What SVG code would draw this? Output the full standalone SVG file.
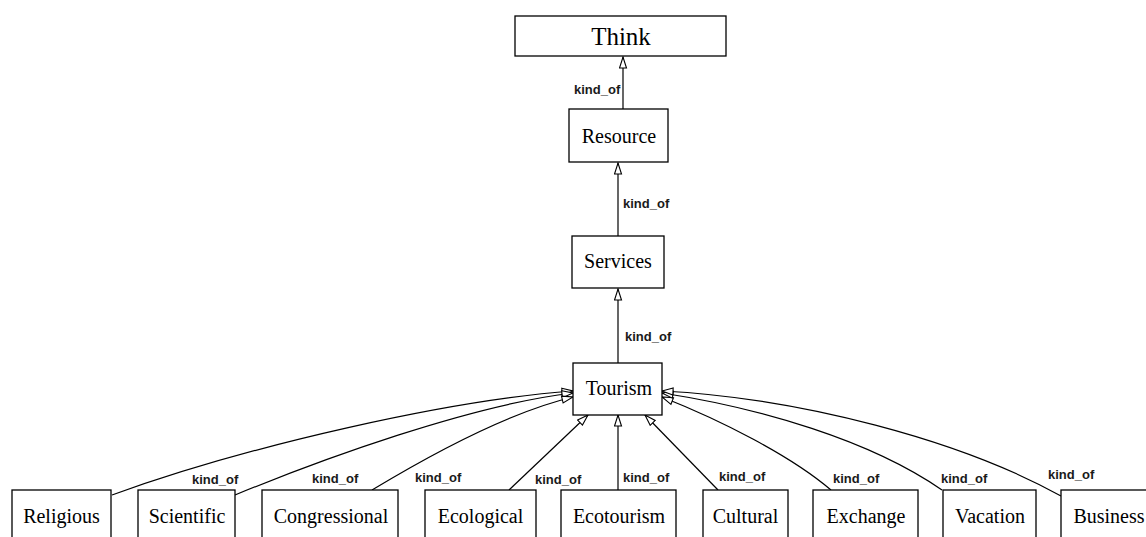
<svg xmlns="http://www.w3.org/2000/svg" width="1146" height="537" viewBox="0 0 1146 537">
  <style>
    .box { fill: #ffffff; stroke: #000000; stroke-width: 1.3; }
    .name { font-family: "Liberation Serif", "Times New Roman", serif; font-size: 20px; fill: #000000; text-anchor: middle; }
    .top { font-size: 25px; }
    .edge { fill: none; stroke: #000000; stroke-width: 1.2; marker-end: url(#hollow); }
    .lbl { font-family: "Liberation Sans", Arial, sans-serif; font-size: 13px; font-weight: bold; fill: #1a1a1a; }
  </style>
  <defs>
    <!-- open (hollow) arrowhead for kind_of relations; tip sits on the path end -->
    <marker id="hollow" markerUnits="userSpaceOnUse" markerWidth="14" markerHeight="10" viewBox="0 0 14 10" refX="12" refY="4.5" orient="auto">
      <path d="M1,1 L12,4.5 L1,8 Z" fill="#ffffff" stroke="#000000" stroke-width="1.1"/>
    </marker>
  </defs>

  <rect width="1146" height="537" fill="#ffffff"/>

  <g id="connectors">
    <path class="edge" d="M623,109 L623,57"/>
    <text class="lbl" x="574" y="94">kind_of</text>

    <path class="edge" d="M618,236 L618,163"/>
    <text class="lbl" x="623" y="208">kind_of</text>

    <path class="edge" d="M618,363 L618,289"/>
    <text class="lbl" x="625" y="341">kind_of</text>

    <!-- children of Tourism -->
    <path class="edge" d="M112,495 C250,445 450,400 573,391"/>
    <text class="lbl" x="192" y="484">kind_of</text>

    <path class="edge" d="M235,495 C320,460 470,405 573,393"/>
    <text class="lbl" x="312" y="483">kind_of</text>

    <path class="edge" d="M372,490 C430,455 510,412 573,397"/>
    <text class="lbl" x="415" y="482">kind_of</text>

    <path class="edge" d="M509,490 L588,415"/>
    <text class="lbl" x="535" y="484">kind_of</text>

    <path class="edge" d="M618,490 L618,415"/>
    <text class="lbl" x="623" y="482">kind_of</text>

    <path class="edge" d="M718,490 L645,415"/>
    <text class="lbl" x="719" y="481">kind_of</text>

    <path class="edge" d="M831,490 C790,455 720,420 662,397"/>
    <text class="lbl" x="833" y="483">kind_of</text>

    <path class="edge" d="M942,490 C870,440 760,408 662,393"/>
    <text class="lbl" x="941" y="483">kind_of</text>

    <path class="edge" d="M1061,496 C960,440 800,398 662,391"/>
    <text class="lbl" x="1048" y="479">kind_of</text>
  </g>

  <g id="think">
    <rect class="box" x="515" y="16" width="211" height="40"/>
    <text class="name top" x="621" y="45">Think</text>
  </g>
  <g id="resource">
    <rect class="box" x="569" y="109" width="99" height="53"/>
    <text class="name" x="619" y="143">Resource</text>
  </g>
  <g id="services">
    <rect class="box" x="572" y="236" width="92" height="52"/>
    <text class="name" x="618" y="268">Services</text>
  </g>
  <g id="tourism">
    <rect class="box" x="573" y="363" width="89" height="52"/>
    <text class="name" x="619" y="395">Tourism</text>
  </g>

  <g id="religious">
    <rect class="box" x="12" y="490" width="99" height="60"/>
    <text class="name" x="61.5" y="523">Religious</text>
  </g>
  <g id="scientific">
    <rect class="box" x="138" y="490" width="97" height="60"/>
    <text class="name" x="187" y="523">Scientific</text>
  </g>
  <g id="congressional">
    <rect class="box" x="262" y="490" width="136" height="60"/>
    <text class="name" x="331" y="523">Congressional</text>
  </g>
  <g id="ecological">
    <rect class="box" x="425" y="490" width="111" height="60"/>
    <text class="name" x="480.5" y="523">Ecological</text>
  </g>
  <g id="ecotourism">
    <rect class="box" x="561" y="490" width="115" height="60"/>
    <text class="name" x="619" y="523">Ecotourism</text>
  </g>
  <g id="cultural">
    <rect class="box" x="703" y="490" width="85" height="60"/>
    <text class="name" x="745.5" y="523">Cultural</text>
  </g>
  <g id="exchange">
    <rect class="box" x="813" y="490" width="105" height="60"/>
    <text class="name" x="866" y="523">Exchange</text>
  </g>
  <g id="vacation">
    <rect class="box" x="943" y="490" width="93" height="60"/>
    <text class="name" x="990" y="523">Vacation</text>
  </g>
  <g id="business">
    <rect class="box" x="1061" y="490" width="100" height="60"/>
    <text class="name" x="1109" y="523">Business</text>
  </g>
</svg>
